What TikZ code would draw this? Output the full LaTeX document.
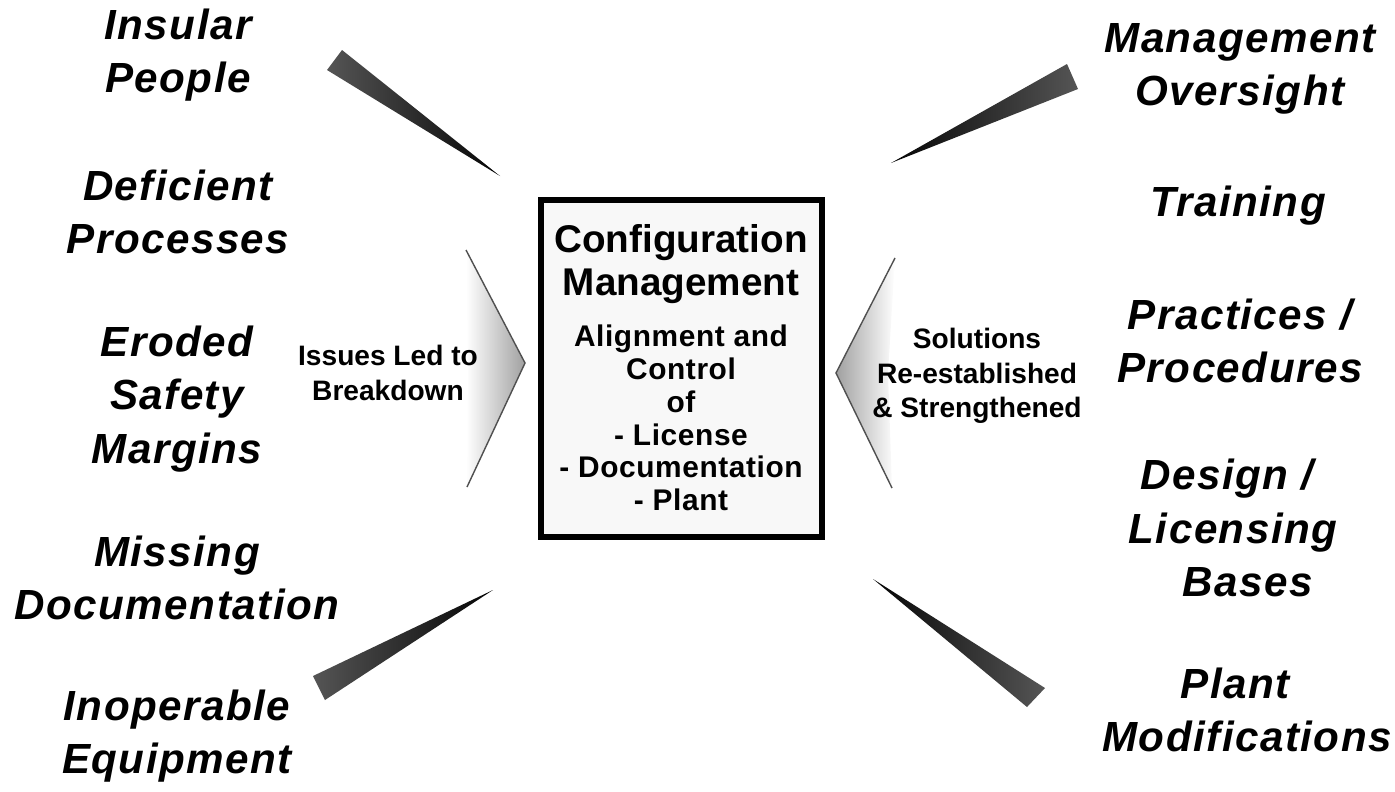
\documentclass[tikz,border=0pt]{standalone}
\usepackage{fontspec}
\setmainfont{Liberation Sans}
\newfontfamily\labelfont[LetterSpace=3.5]{Liberation Sans}
\newfontfamily\boxfont[LetterSpace=2]{Liberation Sans}
\usetikzlibrary{positioning,calc}
\definecolor{wedgedark}{RGB}{5,5,5}
\definecolor{wedgelight}{RGB}{85,85,85}
\definecolor{chevgray}{RGB}{160,160,160}
\definecolor{chevedge}{RGB}{80,80,80}
\definecolor{boxfill}{RGB}{248,248,248}

\tikzset{
  cause/.style={font=\labelfont\fontsize{24}{30.5}\selectfont\bfseries\itshape, align=center, inner sep=0pt},
  remedy/.style={cause},
  note/.style={font=\fontsize{16}{19.5}\selectfont\bfseries, align=center, inner sep=0pt},
  cmbox/.style={draw=black, line width=3.4pt, fill=boxfill, minimum width=5.62cm, minimum height=6.74cm, inner sep=0pt},
  cmtitle/.style={font=\fontsize{22}{24.5}\selectfont\bfseries, align=center, inner sep=0pt},
  cmbody/.style={font=\boxfont\fontsize{17}{18.6}\selectfont\bfseries, align=center, inner sep=0pt},
}

\begin{document}
\begin{tikzpicture}[x=0.02cm, y=-0.02cm]
    \useasboundingbox (0,0) rectangle (1395,791);
    % pointers toward the box
    \shade[left color=wedgelight, right color=wedgedark] (327,70) -- (342,50) -- (500,176) -- cycle;
    \shade[left color=wedgelight, right color=wedgedark] (313,676) -- (325,700) -- (493,590) -- cycle;
    \shade[left color=wedgedark, right color=wedgelight] (891,163) -- (1067,64) -- (1078,89) -- cycle;
    \shade[left color=wedgedark, right color=wedgelight] (873,579) -- (1045,688) -- (1027,707) -- cycle;
    % chevrons
    \shade[left color=white, right color=chevgray] (466,250) -- (525,363) -- (467,487) -- (468,363) -- cycle;
    \draw[chevedge, line width=0.8pt] (466,250) -- (525,363) -- (467,487);
    \shade[left color=chevgray, right color=white] (895,258) -- (836,373) -- (892,488) -- (888,373) -- cycle;
    \draw[chevedge, line width=0.8pt] (895,258) -- (836,373) -- (892,488);
    % central box
    \node[cmbox] (cm) at (681.5,368.5) {};
    \node[cmtitle] (cmhead) at (681,264) {Configuration\\Management};
    \node[cmbody] (cmtext) at (681,418) {Alignment and\\Control\\of\\- License\\- Documentation\\- Plant};
    % left column
    \node[cause] (insular) at (178,55) {Insular\\People};
    \node[cause] (deficient) at (178,212) {Deficient\\Processes};
    \node[cause] (eroded) at (177,399) {Eroded\\Safety\\Margins};
    \node[cause] (missing) at (177,578) {Missing\\Documentation};
    \node[cause] (inoperable) at (177,736) {Inoperable\\Equipment};
    \node[note] (issues) at (388,373) {Issues Led to\\Breakdown};
    % right column
    \node[remedy] (oversight) at (1240,69) {Management\\Oversight};
    \node[remedy] (training) at (1238,206) {Training};
    \node[remedy] (practices) at (1240,341) {Practices /\\Procedures};
    \node[remedy] (bases) at (1233,528) {Design /\hspace*{0.3em}\\Licensing\\\hspace*{0.7em}Bases};
    \node[remedy] (plantmod) at (1247,710) {Plant\hspace*{0.55em}\\Modifications};
    \node[note] (solutions) at (977,376) {Solutions\\Re-established\\\& Strengthened};
\end{tikzpicture}
\end{document}
